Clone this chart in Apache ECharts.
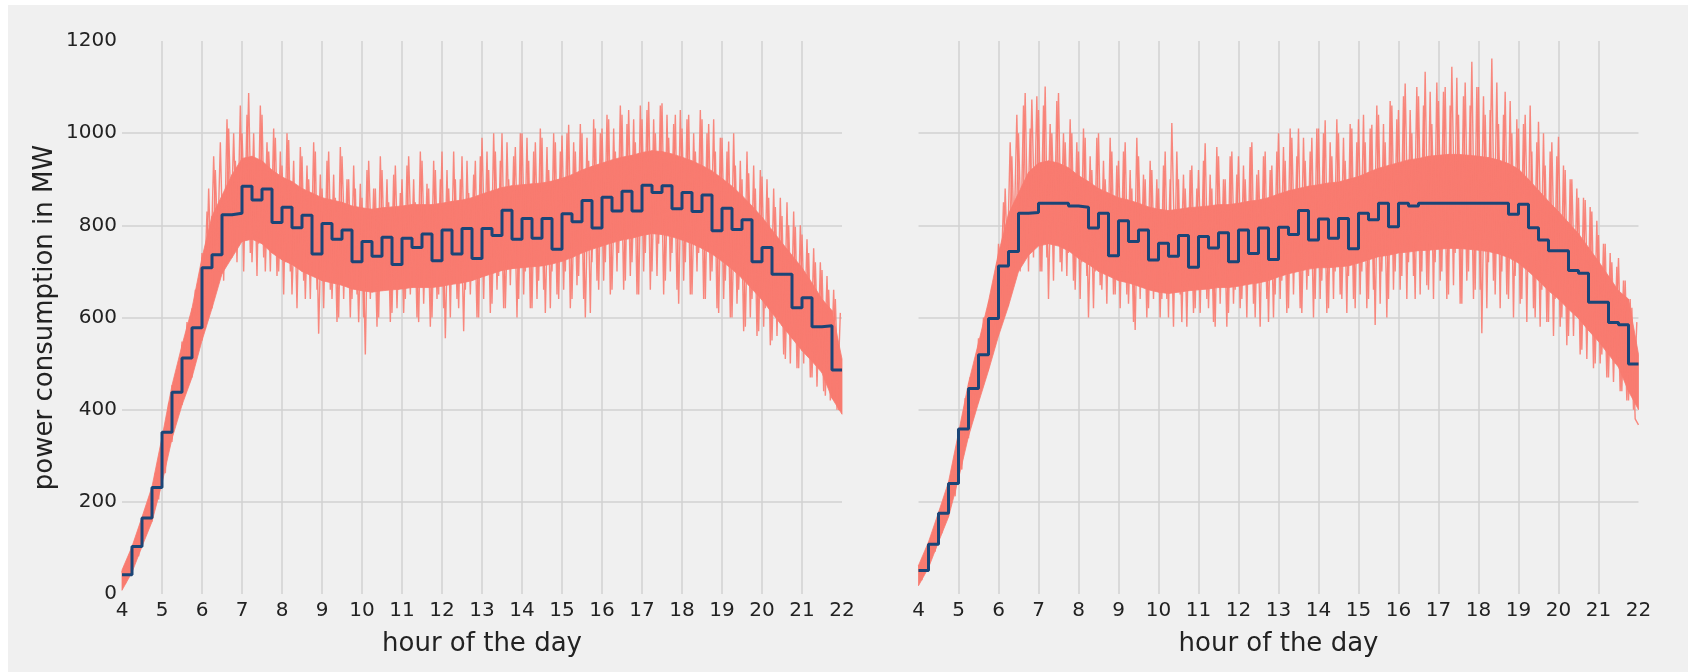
<!DOCTYPE html>
<html>
<head>
<meta charset="utf-8">
<title>power consumption</title>
<script src="https://cdn.jsdelivr.net/npm/echarts@6/dist/echarts.min.js"></script>
<style>
  html, body { margin: 0; padding: 0; width: 1688px; height: 672px; overflow: hidden; background: #fff; }
  #panel { position: absolute; left: 8px; top: 5px; right: 0; bottom: 0; background: #f0f0f0; }
  #chart { position: absolute; left: 0; top: 0; width: 1688px; height: 672px; }
</style>
</head>
<body>
<div id="panel"></div>
<div id="chart"></div>
<script>
const START_HOUR = 4;
const END_HOUR = 22;

// quarter-hour means (blue steps), 4:00 .. 21:45, one row per hour
const stepLeft = [
  42, 103, 165, 231,
  351, 438, 512, 578,
  708, 736, 823, 826,
  885, 855, 879, 806,
  839, 795, 822, 738,
  804, 770, 790, 721,
  765, 733, 774, 715,
  772, 752, 781, 723,
  790, 738, 793, 728,
  793, 778, 833, 770,
  815, 772, 815, 748,
  825, 808, 854, 794,
  861, 831, 874, 831,
  887, 871, 886, 836,
  871, 830, 866, 788,
  837, 791, 812, 721,
  752, 694, 694, 621,
  643, 580, 582, 486
];
const stepRight = [
  51, 108, 175, 240,
  358, 446, 519, 598,
  712, 743, 826, 828,
  848, 848, 848, 842,
  839, 794, 826, 734,
  810, 765, 790, 725,
  761, 733, 778, 709,
  776, 751, 784, 721,
  790, 739, 794, 726,
  796, 780, 832, 768,
  814, 772, 815, 749,
  826, 812, 848, 797,
  848, 842, 848, 848,
  848, 848, 848, 848,
  848, 848, 848, 824,
  846, 795, 768, 745,
  745, 702, 696, 633,
  633, 589, 584, 499
];

// raw readings every 5 minutes, 4:00 .. 22:00, one row per hour
const rawLeft = [
  50, 22, 78, 60, 118, 82, 165, 128, 196, 170, 262, 205,
  345, 262, 415, 330, 462, 395, 548, 445, 575, 480, 660, 540,
  740, 575, 880, 640, 920, 700, 860, 720, 1010, 740, 940, 790,
  1000, 780, 1087, 720, 940, 760, 1040, 700, 960, 810, 990, 700,
  930, 720, 985, 650, 880, 760, 950, 640, 900, 720, 960, 565,
  880, 700, 960, 640, 860, 600, 950, 720, 900, 640, 880, 590,
  860, 520, 940, 700, 880, 600, 920, 680, 850, 610, 930, 660,
  900, 640, 950, 700, 850, 590, 940, 680, 880, 600, 920, 650,
  960, 555, 880, 690, 900, 620, 950, 660, 870, 700, 940, 600,
  990, 700, 920, 630, 960, 690, 1000, 620, 900, 720, 970, 640,
  1000, 700, 940, 620, 980, 680, 990, 610, 920, 700, 980, 640,
  995, 700, 1018, 640, 960, 690, 1000, 600, 940, 720, 1010, 660,
  1010, 720, 1030, 660, 960, 740, 1040, 680, 1050, 720, 980, 650,
  1030, 740, 1068, 700, 1000, 760, 1065, 680, 990, 740, 1040, 630,
  1010, 720, 1040, 650, 960, 740, 1030, 640, 1020, 700, 960, 610,
  990, 680, 982, 600, 930, 660, 900, 580, 913, 640, 880, 570,
  906, 620, 860, 550, 840, 600, 820, 510, 800, 560, 797, 490,
  780, 530, 740, 470, 720, 490, 703, 430, 660, 450, 640, 400,
  400
];
// second set of readings, 2.5 minutes after the first, 4:02.5 .. 21:57.5
const rawLeftB = [
  38, 58, 62, 92, 102, 140, 130, 182, 170, 230, 215, 290,
  320, 380, 330, 455, 400, 510, 450, 590, 500, 610, 560, 700,
  620, 830, 660, 950, 700, 980, 680, 1030, 730, 1000, 720, 1060,
  700, 1040, 740, 1000, 690, 1060, 730, 980, 700, 1010, 690, 960,
  650, 1000, 700, 940, 620, 970, 680, 930, 640, 980, 660, 910,
  620, 940, 660, 910, 590, 970, 640, 900, 600, 930, 650, 890,
  600, 920, 640, 880, 580, 950, 660, 900, 590, 910, 620, 870,
  610, 930, 650, 900, 600, 960, 630, 890, 580, 940, 640, 900,
  620, 920, 600, 960, 640, 900, 570, 940, 650, 910, 600, 950,
  640, 960, 610, 1000, 660, 940, 620, 980, 670, 950, 600, 1000,
  650, 990, 620, 960, 640, 1010, 660, 970, 620, 1000, 650, 960,
  660, 1000, 620, 980, 670, 1020, 640, 990, 610, 1030, 680, 1000,
  680, 1040, 650, 1010, 700, 1060, 660, 1020, 690, 1030, 650, 1060,
  700, 1050, 660, 1030, 690, 1060, 650, 1040, 700, 1020, 660, 1050,
  680, 1030, 650, 1000, 700, 1050, 640, 1000, 680, 1030, 620, 990,
  640, 960, 600, 1000, 630, 940, 570, 960, 600, 930, 560, 920,
  580, 900, 540, 880, 560, 860, 520, 850, 500, 830, 490, 800,
  500, 770, 470, 750, 450, 720, 440, 690, 420, 660, 400, 610
];
const rawRight = [
  62, 30, 88, 68, 128, 92, 172, 132, 212, 170, 268, 212,
  360, 270, 425, 338, 470, 400, 555, 450, 600, 490, 665, 550,
  760, 590, 880, 650, 950, 700, 1000, 730, 1087, 700, 1073, 760,
  1050, 700, 1101, 640, 1000, 760, 1087, 700, 980, 740, 1000, 660,
  960, 720, 990, 600, 920, 700, 1000, 660, 900, 720, 960, 650,
  940, 700, 980, 630, 880, 573, 950, 700, 900, 620, 920, 660,
  880, 640, 960, 600, 1022, 690, 900, 590, 880, 680, 930, 620,
  920, 680, 978, 620, 880, 580, 950, 690, 900, 610, 960, 660,
  950, 640, 900, 690, 980, 600, 920, 680, 960, 590, 930, 650,
  1000, 680, 940, 620, 990, 700, 1010, 610, 940, 690, 990, 640,
  1010, 680, 1028, 620, 950, 700, 1000, 640, 940, 690, 1010, 620,
  1030, 700, 980, 640, 1018, 584, 1040, 700, 980, 640, 1060, 700,
  1050, 690, 1108, 720, 1000, 640, 1080, 700, 1133, 660, 1020, 720,
  1070, 700, 1100, 650, 1144, 740, 1040, 630, 1110, 700, 1155, 660,
  1100, 566, 1040, 720, 1162, 650, 1020, 700, 1090, 640, 1000, 690,
  1010, 640, 1040, 700, 960, 600, 1025, 660, 930, 590, 980, 640,
  992, 600, 920, 560, 900, 620, 860, 530, 855, 580, 830, 500,
  779, 520, 760, 470, 720, 500, 729, 440, 680, 420, 621, 380,
  367
];
const rawRightB = [
  45, 70, 70, 105, 112, 150, 140, 195, 185, 245, 225, 300,
  330, 390, 340, 470, 410, 520, 470, 600, 510, 630, 580, 720,
  630, 850, 670, 980, 720, 1040, 700, 1060, 740, 1010, 730, 1080,
  700, 1060, 730, 1020, 680, 1070, 720, 1000, 690, 1030, 680, 980,
  640, 1010, 690, 950, 620, 990, 670, 940, 630, 990, 650, 930,
  620, 960, 650, 920, 590, 990, 640, 910, 600, 940, 640, 900,
  600, 930, 640, 900, 580, 960, 650, 910, 580, 920, 610, 880,
  610, 940, 640, 910, 590, 970, 630, 900, 580, 950, 630, 910,
  620, 930, 600, 970, 630, 910, 580, 950, 640, 920, 600, 960,
  640, 970, 610, 1010, 650, 950, 620, 990, 660, 960, 600, 1010,
  640, 1000, 610, 980, 640, 1030, 650, 990, 610, 1020, 640, 980,
  650, 1040, 620, 1010, 660, 1060, 630, 1020, 600, 1070, 660, 1030,
  660, 1080, 640, 1050, 690, 1100, 650, 1060, 670, 1090, 640, 1110,
  680, 1090, 640, 1060, 670, 1120, 630, 1080, 680, 1060, 640, 1100,
  660, 1080, 620, 1050, 680, 1110, 620, 1040, 650, 1070, 600, 1030,
  630, 1020, 590, 1060, 620, 980, 580, 1000, 590, 960, 560, 950,
  580, 930, 540, 900, 560, 880, 520, 860, 510, 840, 490, 810,
  500, 760, 470, 740, 460, 710, 440, 680, 420, 640, 400, 590
];

// dense core of the raw trace at each quarter hour, 4:00 .. 22:00
const bandLowLeft = [
  8, 47, 103, 157, 240, 337, 410, 470, 550, 620, 695, 730,
  765, 770, 760, 740, 725, 715, 700, 690, 680, 675, 670, 662,
  658, 655, 658, 660, 662, 665, 665, 665, 668, 672, 675, 680,
  688, 695, 702, 706, 708, 710, 712, 716, 722, 730, 740, 748,
  755, 762, 768, 772, 778, 782, 780, 775, 768, 760, 750, 738,
  722, 705, 685, 662, 638, 610, 582, 555, 528, 505, 480, 425,
  390
];
const bandHighLeft = [
  52, 103, 167, 233, 340, 453, 540, 620, 730, 820, 865, 910,
  945, 950, 940, 920, 905, 895, 880, 870, 860, 855, 850, 842,
  838, 835, 838, 840, 842, 845, 845, 845, 848, 852, 855, 860,
  868, 875, 882, 886, 888, 890, 892, 896, 902, 910, 920, 928,
  935, 942, 948, 952, 958, 962, 960, 955, 948, 940, 930, 918,
  902, 885, 865, 842, 818, 790, 762, 735, 708, 675, 640, 615,
  510
];
const bandLowRight = [
  18, 57, 113, 167, 250, 342, 415, 485, 560, 625, 700, 735,
  755, 760, 755, 745, 728, 715, 700, 690, 680, 675, 668, 660,
  655, 652, 655, 658, 660, 662, 665, 665, 668, 672, 675, 680,
  688, 695, 700, 705, 708, 708, 710, 712, 718, 725, 732, 735,
  740, 742, 745, 746, 748, 750, 750, 748, 746, 743, 738, 730,
  718, 700, 680, 658, 640, 618, 598, 572, 548, 520, 492, 440,
  400
];
const bandHighRight = [
  62, 113, 177, 243, 350, 458, 545, 635, 740, 825, 870, 915,
  935, 940, 935, 925, 908, 895, 880, 870, 860, 855, 848, 840,
  835, 832, 835, 838, 840, 842, 845, 845, 848, 852, 855, 860,
  868, 875, 880, 885, 888, 892, 894, 900, 906, 915, 924, 930,
  936, 942, 945, 950, 952, 954, 954, 952, 950, 947, 942, 934,
  922, 900, 876, 852, 830, 806, 782, 752, 722, 690, 658, 640,
  520
];

const RED = '#f87b70';
const NAVY = '#1b4577';
const GRID = '#d2d2d2';
const FONT = 'DejaVu Sans';

const quarterHour = i => START_HOUR + i / 4;
const atFiveMin = (arr, shift) => arr.map((v, i) => [START_HOUR + (i + shift) / 12, v]);
const stepPoints = arr => arr.map((v, i) => [quarterHour(i), v]).concat([[END_HOUR, arr[arr.length - 1]]]);

// one quad per quarter hour: [t0, lo0, hi0, t1, lo1, hi1]
const bandQuads = (lo, hi) => lo.slice(0, -1).map((v, i) =>
  [quarterHour(i), v, hi[i], quarterHour(i + 1), lo[i + 1], hi[i + 1]]);

function renderBand(params, api) {
  const pts = [
    api.coord([api.value(0), api.value(1)]),
    api.coord([api.value(3), api.value(4)]),
    api.coord([api.value(3), api.value(5)]),
    api.coord([api.value(0), api.value(2)])
  ];
  return {
    type: 'polygon',
    shape: { points: pts },
    style: { fill: RED, stroke: RED, lineWidth: 0.8 }
  };
}

function rawLine(idx, data) {
  return {
    type: 'line', xAxisIndex: idx, yAxisIndex: idx,
    data: data, symbol: 'none', silent: true,
    lineStyle: { color: RED, width: 1.4, opacity: 0.9 }, z: 3
  };
}

function panelSeries(idx, steps, raw, rawB, lo, hi) {
  return [
    {
      type: 'custom', xAxisIndex: idx, yAxisIndex: idx,
      data: bandQuads(lo, hi), renderItem: renderBand, silent: true,
      encode: { x: [0, 3], y: [1, 2, 4, 5] }, z: 2
    },
    rawLine(idx, atFiveMin(raw, 0)),
    rawLine(idx, atFiveMin(rawB, 0.5)),
    {
      type: 'line', xAxisIndex: idx, yAxisIndex: idx, step: 'end',
      data: stepPoints(steps), symbol: 'none', silent: true,
      lineStyle: { color: NAVY, width: 3 }, z: 4
    }
  ];
}

function xAxis(idx) {
  return {
    type: 'value', gridIndex: idx, min: START_HOUR, max: END_HOUR, interval: 1,
    name: 'hour of the day', nameLocation: 'middle', nameGap: 37,
    nameTextStyle: { fontFamily: FONT, fontSize: 26, color: '#222' },
    axisLine: { show: false }, axisTick: { show: false },
    axisLabel: { fontFamily: FONT, fontSize: 20, color: '#222', margin: 7 },
    splitLine: { show: true, showMinLine: false, showMaxLine: false,
                 lineStyle: { color: GRID, width: 1.5 } }
  };
}

function yAxis(idx) {
  return {
    type: 'value', gridIndex: idx, min: 0, max: 1200, interval: 200,
    name: idx === 0 ? 'power consumption in MW' : '',
    nameLocation: 'middle', nameGap: 64,
    nameTextStyle: { fontFamily: FONT, fontSize: 26, color: '#222' },
    axisLine: { show: false }, axisTick: { show: false },
    axisLabel: { show: idx === 0, fontFamily: FONT, fontSize: 20, color: '#222', margin: 5,
                 formatter: v => String(v) },
    splitLine: { show: true, showMinLine: false, showMaxLine: false,
                 lineStyle: { color: GRID, width: 1.5 } }
  };
}

const chart = echarts.init(document.getElementById('chart'));
chart.setOption({
  animation: false,
  backgroundColor: 'transparent',
  grid: [
    { left: 122, top: 41, width: 720, height: 553 },
    { left: 918.5, top: 41, width: 720, height: 553 }
  ],
  xAxis: [xAxis(0), xAxis(1)],
  yAxis: [yAxis(0), yAxis(1)],
  series: panelSeries(0, stepLeft, rawLeft, rawLeftB, bandLowLeft, bandHighLeft)
    .concat(panelSeries(1, stepRight, rawRight, rawRightB, bandLowRight, bandHighRight))
});
</script>
</body>
</html>
